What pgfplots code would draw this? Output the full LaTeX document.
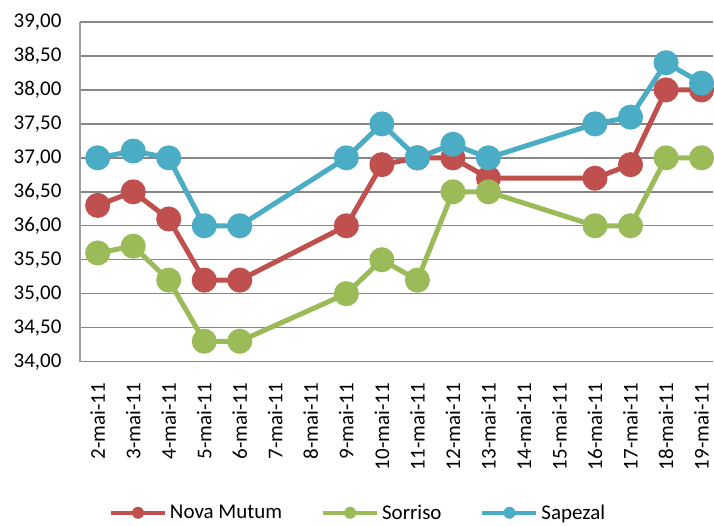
\documentclass[border=0pt]{standalone}
\usepackage{fontspec}
\setmainfont{Carlito}
\usepackage{pgfplots}
\pgfplotsset{compat=1.18}
\definecolor{cred}{HTML}{C0504D}
\definecolor{cgreen}{HTML}{9BBB59}
\definecolor{cblue}{HTML}{4BACC6}
\definecolor{gridgray}{HTML}{868686}
\begin{document}
\begin{tikzpicture}
\begin{axis}[
    scale only axis,
    width=634pt, height=340pt,
    xmin=-0.5, xmax=17.33,
    ymin=34, ymax=39,
    ytick={34,34.5,...,39},
    xtick={0,...,17},
    xticklabels={2-mai-11,3-mai-11,4-mai-11,5-mai-11,6-mai-11,7-mai-11,8-mai-11,9-mai-11,10-mai-11,11-mai-11,12-mai-11,13-mai-11,14-mai-11,15-mai-11,16-mai-11,17-mai-11,18-mai-11,19-mai-11},
    x tick label style={rotate=90, anchor=east},
    tick label style={font=\fontsize{21}{24}\selectfont},
    /pgf/number format/.cd, fixed, fixed zerofill, precision=2, use comma, assume math mode=true,
    /pgfplots/.cd,
    ymajorgrids, grid style={gridgray, line width=1.4pt},
    axis x line*=bottom, axis y line*=left,
    axis line style={-},
    x axis line style={draw=none},
    y axis line style={gridgray!80, line width=1.4pt},
    major tick length=0pt,
    xticklabel shift=18pt, yticklabel shift=15pt,
    clip=false,
    legend style={at={(axis description cs:0.44,-0.445)}, anchor=center, draw=none,
        font=\fontsize{21}{24}\selectfont, legend columns=3,
        nodes={inner sep=3pt},
        /tikz/every even column/.append style={column sep=36pt}},
    legend image code/.code={
        \draw[#1, mark=none, line width=4pt] (0pt,0pt) -- (54pt,0pt);
        \fill[#1, mark=none, draw=none] (27pt,0pt) circle[radius=6pt];
    },
    every axis plot/.append style={line width=5pt, mark=*, mark size=10pt},
]
\addplot[cred, mark options={fill=cred}] coordinates {
    (0,36.3) (1,36.5) (2,36.1) (3,35.2) (4,35.2) (7,36.0) (8,36.9) (9,37.0)
    (10,37.0) (11,36.7) (14,36.7) (15,36.9) (16,38.0) (17,38.0)};
\addlegendentry{Nova Mutum}
\addplot[cgreen, mark options={fill=cgreen}] coordinates {
    (0,35.6) (1,35.7) (2,35.2) (3,34.3) (4,34.3) (7,35.0) (8,35.5) (9,35.2)
    (10,36.5) (11,36.5) (14,36.0) (15,36.0) (16,37.0) (17,37.0)};
\addlegendentry{Sorriso}
\addplot[cblue, mark options={fill=cblue}] coordinates {
    (0,37.0) (1,37.1) (2,37.0) (3,36.0) (4,36.0) (7,37.0) (8,37.5) (9,37.0)
    (10,37.2) (11,37.0) (14,37.5) (15,37.6) (16,38.4) (17,38.1)};
\addlegendentry{Sapezal}
\end{axis}
% page margins as in the reference
\path ([xshift=-80pt,yshift=22pt]current axis.north west);
\path ([yshift=-158pt]current axis.south east);
\end{tikzpicture}
\end{document}
